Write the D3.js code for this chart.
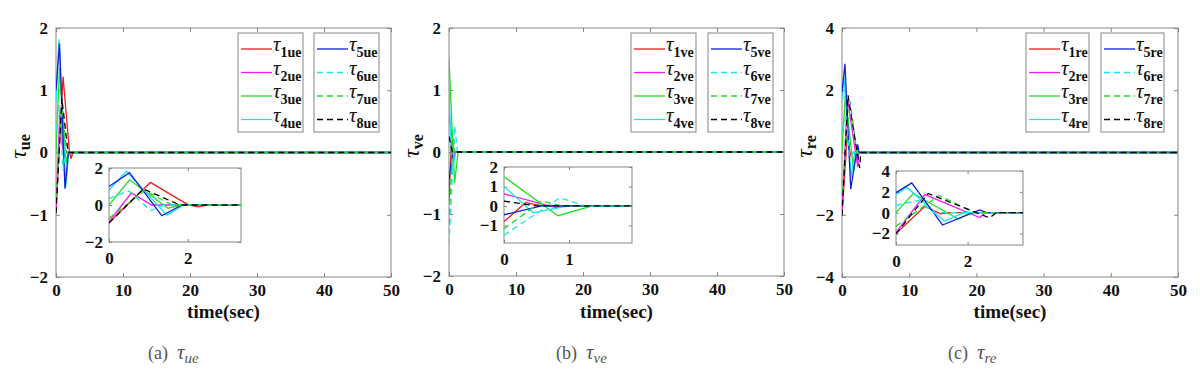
<!DOCTYPE html>
<html>
<head>
<meta charset="utf-8">
<script src="https://cdn.jsdelivr.net/npm/d3@7"></script>
<style>
body { margin: 0; background: #fff; }
</style>
</head>
<body>
<svg id="chart" width="1200" height="385"></svg>
<script>
"use strict";

var serifFont = "'Liberation Serif'";

// series numbers (1..8) and the three panels
var seriesIds = ["1", "2", "3", "4", "5", "6", "7", "8"];
var panelKeys = ["ue", "ve", "re"];
var panelLetters = ["a", "b", "c"];

// tau_ue : [time, value] points
var ueData = [
    [[0, -0.95], [1.05, 1.22], [2.0, 0.02], [2.25, -0.1], [2.5, 0], [50, 0]],
    [[0, -0.9], [0.57, 0.65], [1.08, 0], [50, 0]],
    [[0, 0], [0.52, 1.36], [1.5, -0.18], [1.8, 0], [50, 0]],
    [[0, 0.8], [0.44, 1.82], [1.47, -0.55], [1.9, 0], [50, 0]],
    [[0, 1.0], [0.52, 1.75], [1.34, -0.58], [1.85, 0], [50, 0]],
    [[0, 0.35], [0.5, 0.76], [1.06, -0.3], [1.4, 0], [50, 0]],
    [[0, -0.72], [0.9, 0.78], [1.6, 0], [50, 0]],
    [[0, -0.98], [0.87, 0.87], [1.8, 0], [50, 0]]
];

// tau_ve
var veData = [
    [[0, -0.8], [0.33, 0.17], [0.6, 0], [50, 0]],
    [[0, 0.62], [0.8, -0.08], [0.95, 0], [50, 0]],
    [[0, 1.5], [0.83, -0.5], [1.36, 0], [50, 0]],
    [[0, 1.0], [0.45, -0.35], [0.75, -0.15], [1.0, 0], [50, 0]],
    [[0, -0.45], [0.58, 0], [50, 0]],
    [[0, -1.5], [0.86, 0.42], [1.25, 0], [50, 0]],
    [[0, -1.17], [0.58, 0.25], [0.9, 0], [50, 0]],
    [[0, 0.25], [0.5, 0], [50, 0]]
];

// tau_re
var reData = [
    [[0, -2.0], [0.8, 0.6], [1.25, -0.1], [1.5, 0], [50, 0]],
    [[0, -1.9], [0.81, 1.74], [2.34, -0.46], [2.5, 0], [50, 0]],
    [[0, 0], [0.48, 1.84], [1.74, -0.6], [2.1, 0], [50, 0]],
    [[0, 1.7], [0.3, 2.45], [1.35, -0.8], [1.9, 0], [50, 0]],
    [[0, 1.93], [0.44, 2.85], [1.3, -1.18], [2.34, 0.26], [2.53, 0], [50, 0]],
    [[0, 0.69], [0.62, 1.18], [1.09, -0.1], [1.3, 0], [50, 0]],
    [[0, -1.3], [1.2, 1.65], [2.2, 0], [50, 0]],
    [[0, -2.03], [0.9, 1.84], [2.62, -0.5], [2.8, 0], [50, 0]]
];

// axis ticks
var mainXTicks = [0, 10, 20, 30, 40, 50];
var ueYTicks = [-2, -1, 0, 1, 2];
var veYTicks = [-2, -1, 0, 1, 2];
var reYTicks = [-4, -2, 0, 2, 4];
var ueInsetXTicks = [0, 2];
var veInsetXTicks = [0, 1];
var reInsetXTicks = [0, 2];
var ueInsetYTicks = [-2, 0, 2];
var veInsetYTicks = [-1, 0, 1, 2];
var reInsetYTicks = [-2, 0, 2, 4];

// styles
var colors = ["#f01a1a", "#f41cf4", "#22dd22", "#16e6ee", "#1020d8", "#16e6ee", "#22dd22", "#000000"];
var dashes = [null, null, null, null, null, "6,4", "6,4", "6,4"];
var boxColor = "#858585";

var panels = [
    { data: ueData, yTicks: ueYTicks, yDom: [-2, 2],
      main: [56, 391, 28, 277], inset: [109, 241, 168, 242], inXDom: [0, 3.35], inYDom: [-2, 2],
      inXTicks: ueInsetXTicks, inYTicks: ueInsetYTicks, legend: [238, 314], legW: 65, capX: 148 },
    { data: veData, yTicks: veYTicks, yDom: [-2, 2],
      main: [449, 784, 28, 276], inset: [504, 632, 167, 243], inXDom: [0, 1.97], inYDom: [-1.9, 2],
      inXTicks: veInsetXTicks, inYTicks: veInsetYTicks, legend: [631, 708], legW: 65, capX: 556 },
    { data: reData, yTicks: reYTicks, yDom: [-4, 4],
      main: [842, 1178, 28, 277], inset: [896, 1023, 171, 245], inXDom: [0, 3.55], inYDom: [-3.1, 4],
      inXTicks: reInsetXTicks, inYTicks: reInsetYTicks, legend: [1026, 1101], legW: 63, capX: 948 }
];

var svg = d3.select("#chart");

function drawAxes(g, x, y, xTicks, yTicks, tick, fontSize, padX, padY) {
    var r = x.range(), b = y.range();
    g.append("rect")
        .attr("x", r[0]).attr("y", b[1])
        .attr("width", r[1] - r[0]).attr("height", b[0] - b[1])
        .attr("fill", "#fff").attr("stroke", boxColor).attr("stroke-width", 1);

    var fmt = d3.format("d");
    var styleAxis = function(a){
        a.select(".domain").remove();
        a.selectAll(".tick line").attr("stroke", boxColor);
        a.selectAll(".tick text")
            .attr("fill", "#111")
            .attr("font-size", fontSize)
            .attr("font-weight", "bold");
    };

    g.append("g").attr("transform", "translate(0," + b[0] + ")")
        .call(d3.axisBottom(x).tickValues(xTicks).tickFormat(fmt).tickSize(-tick).tickSizeOuter(0).tickPadding(padY))
        .call(styleAxis);
    g.append("g").attr("transform", "translate(0," + b[1] + ")")
        .call(d3.axisTop(x).tickValues(xTicks).tickSize(-tick).tickSizeOuter(0).tickFormat(""))
        .call(styleAxis);
    g.append("g").attr("transform", "translate(" + r[0] + ",0)")
        .call(d3.axisLeft(y).tickValues(yTicks).tickFormat(fmt).tickSize(-tick).tickSizeOuter(0).tickPadding(padX))
        .call(styleAxis);
    g.append("g").attr("transform", "translate(" + r[1] + ",0)")
        .call(d3.axisRight(y).tickValues(yTicks).tickSize(-tick).tickSizeOuter(0).tickFormat(""))
        .call(styleAxis);
}

function drawLines(g, data, x, y, clipId) {
    var line = d3.line().x(function(d){ return x(d[0]); }).y(function(d){ return y(d[1]); });
    var r = x.range(), b = y.range();
    g.append("clipPath").attr("id", clipId)
        .append("rect").attr("x", r[0]).attr("y", b[1])
        .attr("width", r[1] - r[0]).attr("height", b[0] - b[1]);
    g.append("g").attr("clip-path", "url(#" + clipId + ")")
        .selectAll("path")
        .data(data)
        .enter()
        .append("path")
        .attr("d", line)
        .attr("fill", "none")
        .attr("stroke", function(d, i){ return colors[i]; })
        .attr("stroke-width", 1.3)
        .attr("stroke-dasharray", function(d, i){ return dashes[i]; });
}

panels.forEach(function(p, k){
    var key = panelKeys[k];
    var g = svg.append("g");

    // main plot
    var x = d3.scaleLinear().domain([0, 50]).range([p.main[0], p.main[1]]);
    var y = d3.scaleLinear().domain(p.yDom).range([p.main[3], p.main[2]]);
    drawAxes(g, x, y, mainXTicks, p.yTicks, 4, 17, 8, 7);
    drawLines(g, p.data, x, y, "clipMain" + k);

    // x label
    g.append("text")
        .attr("x", (p.main[0] + p.main[1]) / 2)
        .attr("y", 318)
        .attr("text-anchor", "middle")
        .attr("font-size", 19)
        .attr("font-weight", "bold")
        .attr("fill", "#111")
        .text("time(sec)");

    // y label
    var yl = g.append("text")
        .attr("transform", "translate(" + (p.main[0] - 30) + "," + ((p.main[2] + p.main[3]) / 2 - 6) + ") rotate(-90)")
        .attr("text-anchor", "middle")
        .attr("fill", "#111");
    yl.append("tspan").attr("font-size", 24).attr("font-style", "italic").text("\u03c4");
    yl.append("tspan").attr("font-size", 16).attr("font-weight", "bold").attr("dy", 4).text(key);

    // legend
    p.legend.forEach(function(lx, col){
        g.append("rect")
            .attr("x", lx).attr("y", 33)
            .attr("width", p.legW).attr("height", 99)
            .attr("fill", "#fff").attr("stroke", boxColor);
        var rows = g.selectAll(null)
            .data(seriesIds.slice(col * 4, col * 4 + 4))
            .enter()
            .append("g")
            .attr("transform", function(d, i){ return "translate(" + lx + "," + (49 + i * 23.5) + ")"; });
        rows.append("line")
            .attr("x1", 3).attr("x2", 34)
            .attr("stroke", function(d, i){ return colors[col * 4 + i]; })
            .attr("stroke-width", 1.3)
            .attr("stroke-dasharray", function(d, i){ return dashes[col * 4 + i]; });
        var t = rows.append("text").attr("x", 35).attr("y", 2).attr("fill", "#111");
        t.append("tspan").attr("font-size", 21).attr("font-style", "italic").text("\u03c4");
        t.append("tspan").attr("font-size", 14).attr("font-weight", "bold").attr("dy", 6)
            .text(function(d){ return d + key; });
    });

    // inset
    var ix = d3.scaleLinear().domain(p.inXDom).range([p.inset[0], p.inset[1]]);
    var iy = d3.scaleLinear().domain(p.inYDom).range([p.inset[3], p.inset[2]]);
    drawAxes(g, ix, iy, p.inXTicks, p.inYTicks, 3, 17, 6, 10);
    drawLines(g, p.data, ix, iy, "clipInset" + k);

    // caption
    var cap = g.append("text")
        .attr("x", p.capX).attr("y", 359)
        .attr("fill", "#555")
        .attr("font-size", 18);
    cap.append("tspan").text("(" + panelLetters[k] + ")\u2002");
    cap.append("tspan").attr("font-style", "italic").attr("font-size", 21).text("\u03c4");
    cap.append("tspan").attr("font-style", "italic").attr("font-size", 15).attr("dy", 4).text(key.charAt(0) + "e");
});

// serif everywhere, set on each text node
svg.selectAll("text").style("font-family", serifFont);
</script>
</body>
</html>
